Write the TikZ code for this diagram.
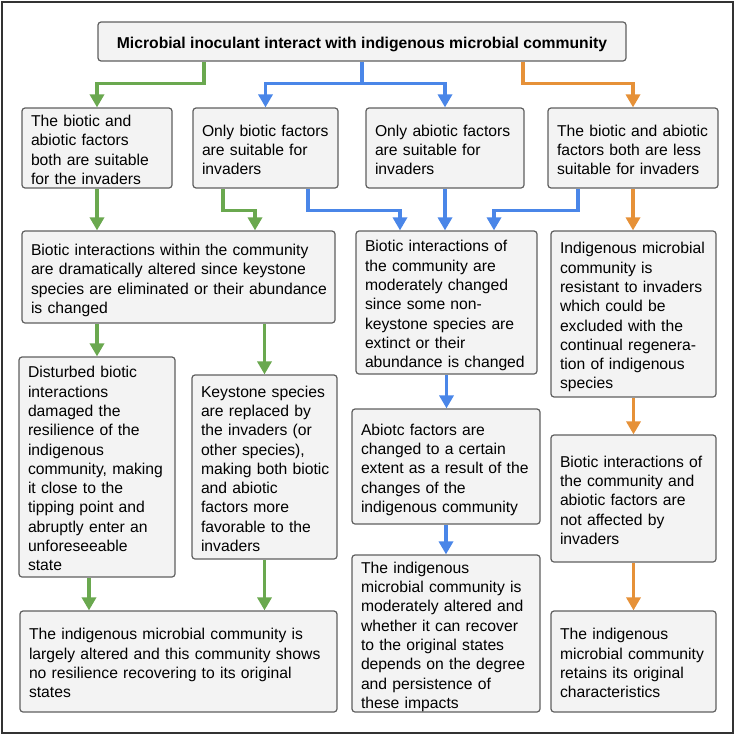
\documentclass[tikz,border=0pt]{standalone}
\usepackage{fontspec}
\setmainfont{Liberation Sans}
\usetikzlibrary{arrows.meta}
\definecolor{gr}{HTML}{6AA84F}
\definecolor{bl}{HTML}{4A86E8}
\definecolor{og}{HTML}{E69138}
\definecolor{boxfill}{HTML}{F3F3F3}
\definecolor{boxline}{HTML}{5F5F5F}
\newcommand\boxtxt[1]{\raisebox{-3.5pt}[\height][\depth]{\begin{tabular}{@{}l@{}}#1\end{tabular}}}
\newcommand\boxat[6]{%
  \pgfmathsetmacro\mybw{#4-#2}\pgfmathsetmacro\mybh{#5-#3}\pgfmathsetmacro\mytw{#4-#2-18}%
  \node[box, minimum width=\mybw pt, minimum height=\mybh pt, text width=\mytw pt] (#1) at ({(#2+#4)/2},{(#3+#5)/2}) {\boxtxt{#6}};}
\begin{document}
\begin{tikzpicture}[x=1pt,y=-1pt,
  box/.style={draw=boxline, line width=1.2pt, fill=boxfill, rounded corners=3pt, inner xsep=9pt, inner ysep=0pt, align=left, font=\fontsize{15.7}{19.3}\selectfont},
  conn/.style={line width=3.5pt, -{Triangle[width=14pt,length=13pt]}},
  gline/.style={conn, draw=gr},
  bline/.style={conn, draw=bl},
  oline/.style={conn, draw=og}]
\useasboundingbox (0,0) rectangle (736,736);
\draw[line width=2pt, draw=black!80] (2,2) rectangle (733,733);

\node[box, font=\fontsize{15.7}{19.3}\selectfont\bfseries, minimum width=528pt, minimum height=39pt] (title) at (362,41.5) {\raisebox{-2.5pt}[\height][\depth]{Microbial inoculant interact with indigenous microbial community}};

\boxat{b1}{22}{108}{172}{188}{The biotic and\\abiotic factors\\both are suitable\\for the invaders}
\boxat{b2}{193}{108}{338}{188}{Only biotic factors\\are suitable for\\invaders}
\boxat{b3}{366}{108}{524}{188}{Only abiotic factors\\are suitable for\\invaders}
\boxat{b4}{548}{108}{718}{188}{The biotic and abiotic\\factors both are less\\suitable for invaders}
\boxat{b5}{22}{231}{335}{323}{Biotic interactions within the community\\are dramatically altered since keystone\\species are eliminated or their abundance\\is changed}
\boxat{b6}{356}{231}{537}{374}{Biotic interactions of\\the community are\\moderately changed\\since some non-\\keystone species are\\extinct or their\\abundance is changed}
\boxat{b7}{551}{231}{716}{397}{Indigenous microbial\\community is\\resistant to invaders\\which could be\\excluded with the\\continual regenera-\\tion of indigenous\\species}
\boxat{b8}{19}{357}{175}{577}{Disturbed biotic\\interactions\\damaged the\\resilience of the\\indigenous\\community, making\\it close to the\\tipping point and\\abruptly enter an\\unforeseeable\\state}
\boxat{b9}{192}{375}{337}{559}{Keystone species\\are replaced by\\the invaders (or\\other species),\\making both biotic\\and abiotic\\factors more\\favorable to the\\invaders}
\boxat{b10}{20}{611}{337}{712}{The indigenous microbial community is\\largely altered and this community shows\\no resilience recovering to its original\\states}
\boxat{b11}{352}{409}{540}{524}{Abiotc factors are\\changed to a certain\\extent as a result of the\\changes of the\\indigenous community}
\boxat{b12}{352}{555}{540}{712}{The indigenous\\microbial community is\\moderately altered and\\whether it can recover\\to the original states\\depends on the degree\\and persistence of\\these impacts}
\boxat{b13}{551}{435}{716}{562}{Biotic interactions of\\the community and\\abiotic factors are\\not affected by\\invaders}
\boxat{b14}{551}{611}{716}{712}{The indigenous\\microbial community\\retains its original\\characteristics}

% connectors
\draw[gline] (title.south -| 204,0) -- ++(0,22) -| (b1.north);
\draw[bline] (title.south) -- ++(0,22) -| (b2.north);
\draw[bline] (title.south) -- ++(0,22) -| (b3.north);
\draw[oline] (title.south -| 523,0) -- ++(0,22) -| (b4.north);

\draw[gline] (b1.south) -- (b1.south |- b5.north);
\draw[gline] (b2.south -| 223,0) -- ++(0,22) -| (b5.north -| 255,0);
\draw[bline] (b2.south -| 308,0) -- ++(0,22) -| (b6.north -| 400,0);
\draw[bline] (b3.south) -- (b3.south |- b6.north);
\draw[bline] (b4.south -| 578,0) -- ++(0,22) -| (b6.north -| 494,0);
\draw[oline] (b4.south) -- (b4.south |- b7.north);

\draw[gline] (b5.south -| b8.north) -- (b8.north);
\draw[gline] (b5.south -| b9.north) -- (b9.north);
\draw[gline] (b8.south -| 89,0) -- (b10.north -| 89,0);
\draw[gline] (b9.south) -- (b9.south |- b10.north);

\draw[bline] (b6.south) -- (b6.south |- b11.north);
\draw[bline] (b11.south) -- (b11.south |- b12.north);
\draw[oline] (b7.south) -- (b7.south |- b13.north);
\draw[oline] (b13.south) -- (b13.south |- b14.north);
\end{tikzpicture}
\end{document}
